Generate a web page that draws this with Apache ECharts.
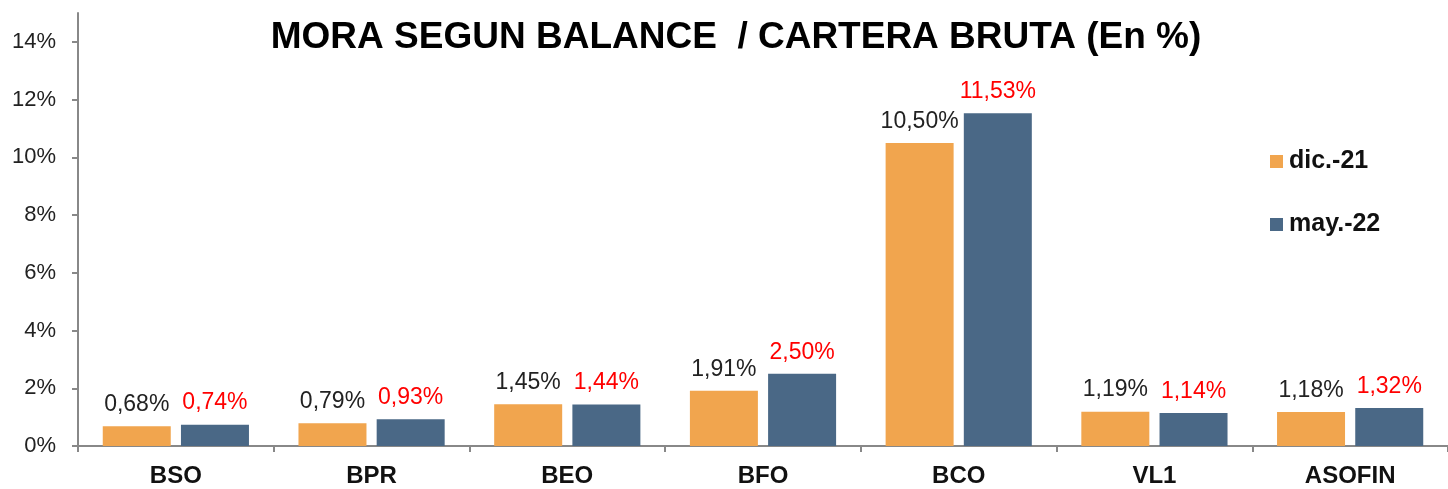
<!DOCTYPE html>
<html>
<head>
<meta charset="utf-8">
<script src="https://cdn.jsdelivr.net/npm/echarts@6/dist/echarts.min.js"></script>
<style>
  html, body { margin: 0; padding: 0; background: #fff; }
  #chart { width: 1448px; height: 489px; }
</style>
</head>
<body>
<div id="chart"></div>
<script>
// data
const categories = ['BSO', 'BPR', 'BEO', 'BFO', 'BCO', 'VL1', 'ASOFIN']
const seriesNames = ['dic.-21', 'may.-22']
const dic21 = [0.68, 0.79, 1.45, 1.91, 10.50, 1.19, 1.18]
const may22 = [0.74, 0.93, 1.44, 2.50, 11.53, 1.14, 1.32]
const yTicks = [0, 2, 4, 6, 8, 10, 12, 14]

const fmt = v => v.toFixed(2).replace('.', ',') + '%'
const font = 'Liberation Sans, Arial, sans-serif'

const chart = echarts.init(document.getElementById('chart'))
chart.setOption({
  animation: false,
  textStyle: { fontFamily: font },
  title: {
    text: 'MORA SEGUN BALANCE  / CARTERA BRUTA (En %)',
    left: 731,
    textAlign: 'center',
    top: 14,
    textStyle: { fontSize: 37, fontWeight: 'bold', color: '#000', fontFamily: font }
  },
  legend: {
    orient: 'vertical',
    left: 1265,
    top: 144,
    itemWidth: 13,
    itemHeight: 13,
    itemGap: 38,
    icon: 'rect',
    textStyle: { fontSize: 25, fontWeight: 'bold', color: '#111', fontFamily: font, padding: [0, 0, 0, 1] }
  },
  grid: { left: 78, top: 13, width: 1378, bottom: 43 },
  xAxis: {
    type: 'category',
    data: categories,
    axisLine: { lineStyle: { color: '#888', width: 2 } },
    axisTick: { show: true, length: 6, lineStyle: { color: '#888', width: 2 } },
    axisLabel: { fontSize: 24, fontWeight: 'bold', color: '#111', margin: 18 }
  },
  yAxis: {
    type: 'value',
    min: 0,
    max: 15,
    interval: 2,
    splitLine: { show: false },
    axisLine: { show: true, lineStyle: { color: '#888', width: 2 } },
    axisTick: { show: true, length: 6, customValues: yTicks, lineStyle: { color: '#888', width: 2 } },
    axisLabel: {
      fontSize: 22, color: '#222', margin: 22,
      customValues: yTicks,
      formatter: v => v + '%'
    }
  },
  series: [
    {
      name: seriesNames[0],
      type: 'bar',
      data: dic21,
      barWidth: 68,
      barGap: '15%',
      itemStyle: { color: '#F1A54E' },
      label: {
        show: true, position: 'top', distance: 10,
        fontSize: 23, color: '#222', formatter: p => fmt(p.value)
      }
    },
    {
      name: seriesNames[1],
      type: 'bar',
      data: may22,
      barWidth: 68,
      itemStyle: { color: '#4A6886' },
      label: {
        show: true, position: 'top', distance: 10,
        fontSize: 23, color: '#FF0000', formatter: p => fmt(p.value)
      }
    }
  ]
})
</script>
</body>
</html>
